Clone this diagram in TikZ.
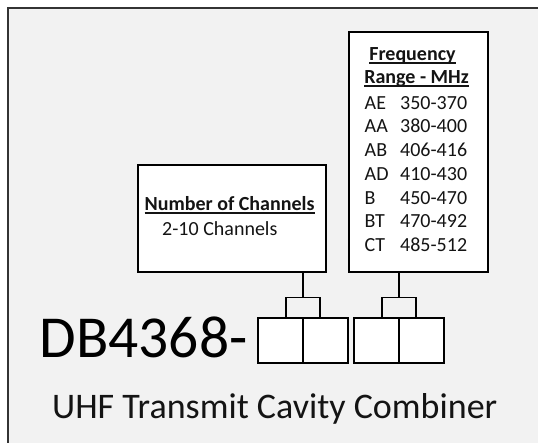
\documentclass[tikz,border=0pt]{standalone}
\usepackage{fontspec}
\setmainfont{Carlito}
\usetikzlibrary{positioning,calc}
\definecolor{panelgray}{RGB}{242,242,242}
\definecolor{inkgray}{RGB}{20,20,20}

\begin{document}
\begin{tikzpicture}[x=1pt,y=-1pt,
  box/.style={draw=black,fill=white,line width=1.4pt,inner sep=0pt,outer sep=0pt},
  cell/.style={box,line width=2pt,minimum width=45pt,minimum height=44.5pt},
  txt/.style={inner sep=0pt,anchor=base west,text=inkgray,font=\fontsize{20}{23}\selectfont},
  head/.style={txt,font=\fontsize{20}{23}\selectfont\bfseries},
  link/.style={line width=1.3pt},
  uline/.style={line width=1.3pt,draw=inkgray}
]
\clip (0,0) rectangle (538,442);
\fill[white] (0,0) rectangle (538,442);
\draw[line width=2pt,draw=black!80,fill=panelgray] (8,8) rectangle (560,460);

% info boxes
\node[box,minimum width=188pt,minimum height=107pt] (chan) at (232,218.5) {};
\node[box,minimum width=139pt,minimum height=240pt] (freq) at (418.5,152) {};

\node[head] (chanhead) at (144.5,210) {Number of Channels};
\node[txt] (chanval) at (162,235) {2-10 Channels};
\node[head,anchor=base] (freqhead) at (412.5,60) {Frequency};
\node[head,anchor=base] (rangehead) at (416.5,83) {Range - MHz};
\foreach \n in {chanhead,freqhead,rangehead}
  \draw[uline] ([yshift=-3pt]\n.base west) -- ([yshift=-3pt]\n.base east);

\foreach \code/\band [count=\i] in {AE/350-370,AA/380-400,AB/406-416,AD/410-430,B/450-470,BT/470-492,CT/485-512}{
  \node[txt] (code\i) at (364.5,{85.5+23.7*\i}) {\code};
  \node[txt] (band\i) at (400,{85.5+23.7*\i}) {\band};
}

% part number cells
\node[txt,text=black,font=\fontsize{59.5}{62}\selectfont] (part) at (39.5,357) {DB4368-};
\node[cell] (c1) at (280.5,340.5) {};
\node[cell,right=0pt of c1] (c2) {};
\node[cell,right=6pt of c2] (c3) {};
\node[cell,right=0pt of c3] (c4) {};

\draw[link] ($(c1.north east)+(-17,0)$) -- ++(0,-21) -| ($(c2.north west)+(17,0)$);
\draw[link] ($(c1.north east)+(0,-21)$) -- (chan.south -| c1.north east);
\draw[link] ($(c3.north east)+(-17,0)$) -- ++(0,-21) -| ($(c4.north west)+(17,0)$);
\draw[link] ($(c3.north east)+(0,-21)$) -- (freq.south -| c3.north east);

\node[txt,font=\fontsize{36}{40}\selectfont] (title) at (52,418) {UHF Transmit Cavity Combiner};
\end{tikzpicture}
\end{document}
